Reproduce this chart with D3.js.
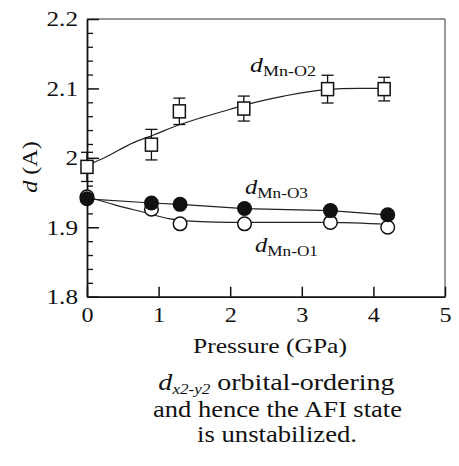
<!DOCTYPE html>
<html>
<head>
<meta charset="utf-8">
<script src="https://cdn.jsdelivr.net/npm/d3@7"></script>
<style>
  body { margin: 0; background: #fff; }
  svg { display: block; }
  text { font-family: "Liberation Serif", "Times New Roman", serif; fill: #111; }
</style>
</head>
<body>
<div id="chart"></div>
<script>
// Data
const pressureO2 = [0, 0.9, 1.29, 2.19, 3.36, 4.15];
const dMnO2 = [1.987, 2.019, 2.067, 2.071, 2.099, 2.099];
const dMnO2Err = [0.021, 0.022, 0.019, 0.018, 0.02, 0.017];

const pressure = [0, 0.9, 1.3, 2.2, 3.4, 4.2];
const dMnO3 = [1.941, 1.935, 1.933, 1.927, 1.924, 1.918];
const dMnO1 = [1.944, 1.926, 1.905, 1.905, 1.907, 1.900];

// guide curves drawn through the points
const fitO2P = [0, 0.2, 0.65, 0.93, 1.3, 1.6, 2.0, 2.2, 2.75, 3.3, 3.8, 4.15];
const fitO2D = [1.99, 1.998, 2.022, 2.033, 2.048, 2.058, 2.07, 2.076, 2.089, 2.098, 2.1, 2.1];
const fitO1P = [0, 0.4, 0.78, 1.16, 1.58, 2.0, 2.8, 3.4, 4.2];
const fitO1D = [1.944, 1.932, 1.922, 1.912, 1.908, 1.907, 1.907, 1.907, 1.904];

const xTicks = [0, 1, 2, 3, 4, 5];
const yTicks = [1.8, 1.9, 2.0, 2.1, 2.2];

const width = 459, height = 466;
const x = d3.scaleLinear().domain([0, 5]).range([87, 445]);
const y = d3.scaleLinear().domain([1.8, 2.2]).range([296.7, 19]);

const svg = d3.select("#chart").append("svg")
    .attr("width", width)
    .attr("height", height);

// stretch text horizontally to the width seen in the scan
function stretchText(sel, f) {
    sel.each(function() {
        const w = this.getComputedTextLength();
        d3.select(this).attr("textLength", w * f).attr("lengthAdjust", "spacingAndGlyphs");
    });
}

// frame top / right (thin)
svg.append("line").attr("x1", x(0)).attr("x2", x(5)).attr("y1", y(2.2)).attr("y2", y(2.2))
    .attr("stroke", "#333").attr("stroke-width", 1);
svg.append("line").attr("x1", x(5)).attr("x2", x(5)).attr("y1", y(2.2)).attr("y2", y(1.8))
    .attr("stroke", "#333").attr("stroke-width", 1);

// y minor ticks
const yMinor = d3.range(1.82, 2.2, 0.02).filter(v => Math.abs(v * 10 - Math.round(v * 10)) > 0.01);
svg.append("g")
    .attr("transform", `translate(${x(0)},0)`)
    .call(d3.axisLeft(y).tickValues(yMinor).tickSize(-6).tickFormat(""))
    .call(g => g.select(".domain").remove())
    .selectAll("line").attr("stroke", "#111").attr("stroke-width", 1.3);

// y major axis
const yAxis = svg.append("g")
    .attr("transform", `translate(${x(0)},0)`)
    .call(d3.axisLeft(y).tickValues(yTicks).tickSize(-12).tickSizeOuter(0).tickPadding(9)
        .tickFormat(d => String(+d.toFixed(1))));
yAxis.select(".domain").attr("stroke", "#111").attr("stroke-width", 1.8);
yAxis.selectAll("line").attr("stroke", "#111").attr("stroke-width", 1.5);
yAxis.selectAll("text").attr("font-size", 21).style("font-family", "Liberation Serif");
stretchText(yAxis.selectAll("text"), 1.2);

// x axis
const xAxis = svg.append("g")
    .attr("transform", `translate(0,${y(1.8)})`)
    .call(d3.axisBottom(x).tickValues(xTicks).tickSize(-10).tickSizeOuter(0).tickPadding(10)
        .tickFormat(d3.format("d")));
xAxis.select(".domain").attr("stroke", "#111").attr("stroke-width", 1.8);
xAxis.selectAll("line").attr("stroke", "#111").attr("stroke-width", 1.5);
xAxis.selectAll("text").attr("font-size", 21).style("font-family", "Liberation Serif");
stretchText(xAxis.selectAll("text"), 1.15);

// curves
const line = d3.line().x(d => x(d[0])).y(d => y(d[1]));
svg.append("path")
    .datum(d3.zip(fitO2P, fitO2D))
    .attr("d", line.curve(d3.curveMonotoneX))
    .attr("fill", "none").attr("stroke", "#222").attr("stroke-width", 1.2);
svg.append("path")
    .datum(d3.zip(fitO1P, fitO1D))
    .attr("d", line.curve(d3.curveMonotoneX))
    .attr("fill", "none").attr("stroke", "#222").attr("stroke-width", 1.2);
svg.append("path")
    .datum(d3.zip(pressure, dMnO3))
    .attr("d", line.curve(d3.curveLinear))
    .attr("fill", "none").attr("stroke", "#222").attr("stroke-width", 1.2);

// error bars for Mn-O2
const o2 = pressureO2.map((p, i) => ({ p, d: dMnO2[i], e: dMnO2Err[i] }));
const err = svg.append("g").attr("stroke", "#111").attr("stroke-width", 1.3);
err.selectAll(".v").data(o2).enter().append("line")
    .attr("x1", d => x(d.p)).attr("x2", d => x(d.p))
    .attr("y1", d => y(d.d - d.e)).attr("y2", d => y(d.d + d.e));
err.selectAll(".top").data(o2).enter().append("line")
    .attr("x1", d => x(d.p) - 6).attr("x2", d => x(d.p) + 6)
    .attr("y1", d => y(d.d + d.e)).attr("y2", d => y(d.d + d.e));
err.selectAll(".bot").data(o2).enter().append("line")
    .attr("x1", d => x(d.p) - 6).attr("x2", d => x(d.p) + 6)
    .attr("y1", d => y(d.d - d.e)).attr("y2", d => y(d.d - d.e));

// squares
const sq = 12;
svg.selectAll(".sq").data(o2).enter().append("rect")
    .attr("x", d => x(d.p) - sq / 2).attr("y", d => y(d.d) - sq / 2 - 0.5)
    .attr("width", sq).attr("height", sq + 1)
    .attr("fill", "#fff").attr("stroke", "#111").attr("stroke-width", 1.5);

// open circles (Mn-O1)
svg.selectAll(".o1").data(pressure).enter().append("circle")
    .attr("cx", d => x(d)).attr("cy", (d, i) => y(dMnO1[i]))
    .attr("r", 6.8)
    .attr("fill", "#fff").attr("stroke", "#111").attr("stroke-width", 1.5);

// filled circles (Mn-O3)
svg.selectAll(".o3").data(pressure).enter().append("circle")
    .attr("cx", d => x(d)).attr("cy", (d, i) => y(dMnO3[i]))
    .attr("r", 7.5)
    .attr("fill", "#111");

// text helper: group scaled horizontally to target width
function label(cx, baseline, w, anchor, build) {
    const g = svg.append("g");
    const t = g.append("text").attr("text-anchor", anchor);
    build(t);
    const bw = t.node().getBBox().width;
    g.attr("transform", `translate(${cx},${baseline}) scale(${w / bw},1)`);
    return g;
}

function dLabel(t, sub, fs, sfs) {
    t.append("tspan").attr("font-style", "italic").attr("font-size", fs).text("d");
    t.append("tspan").attr("font-size", sfs).attr("dy", 4).text(sub);
}

label(250, 72, 66, "start", t => dLabel(t, "Mn-O2", 20, 14));
label(245, 194, 63, "start", t => dLabel(t, "Mn-O3", 20, 14));
label(255, 252, 63, "start", t => dLabel(t, "Mn-O1", 20, 14));

// y axis title
const yt = svg.append("g").attr("transform", "translate(37,167) rotate(-90) scale(1.15,1)");
const ytt = yt.append("text").attr("text-anchor", "middle").attr("font-size", 21);
ytt.append("tspan").attr("font-style", "italic").text("d");
ytt.append("tspan").text(" (A)");

// x axis title
label(270, 353, 154, "middle", t => t.attr("font-size", 22).text("Pressure (GPa)"));

// caption
label(276.5, 390, 237, "middle", t => {
    t.attr("font-size", 23);
    t.append("tspan").attr("font-style", "italic").text("d");
    t.append("tspan").attr("font-style", "italic").attr("font-size", 14).attr("dy", 3.5).text("x2-y2");
    t.append("tspan").attr("dy", -3.5).text(" orbital-ordering");
});
label(277.5, 417, 249, "middle", t => t.attr("font-size", 23).text("and hence the AFI state"));
label(277, 442, 160, "middle", t => t.attr("font-size", 23).text("is unstabilized."));
</script>
</body>
</html>
